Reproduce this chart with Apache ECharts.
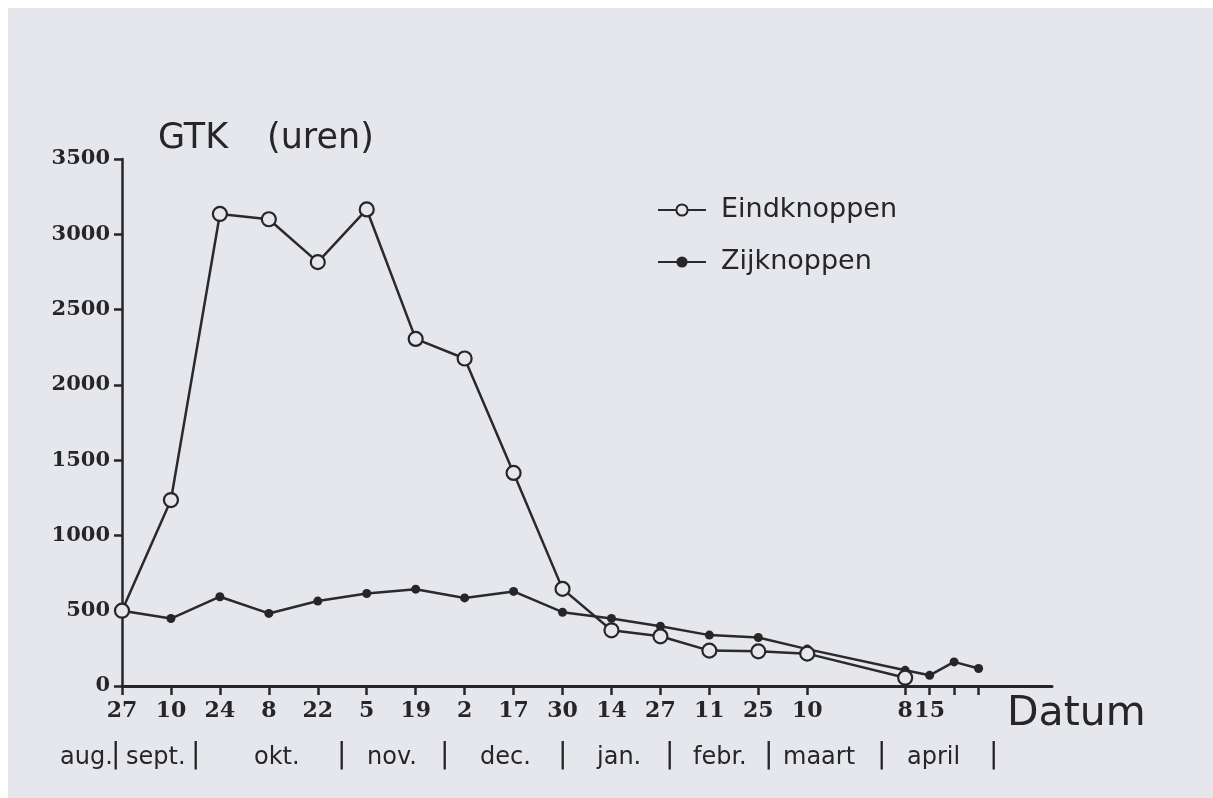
<!DOCTYPE html>
<html>
<head>
<meta charset="utf-8">
<script src="https://cdn.jsdelivr.net/npm/echarts@6/dist/echarts.min.js"></script>
<style>
  html, body { margin: 0; padding: 0; background: #ffffff; }
  #paper { position: absolute; left: 8px; top: 8px; width: 1205px; height: 790px; background: #e6e7ed; }
  #main { position: absolute; left: 0; top: 0; width: 1213px; height: 798px; }
</style>
</head>
<body>
<div id="paper"></div>
<div id="main"></div>
<script>
// ---- data (week index counted from 27 aug) ----
const weekCount = 39;                       // weeks 0..38 on the axis
const tickWeeks = [0, 2, 4, 6, 8, 10, 12, 14, 16, 18, 20, 22, 24, 26, 28, 32, 33, 34, 35];
const labelWeeks = [0, 2, 4, 6, 8, 10, 12, 14, 16, 18, 20, 22, 24, 26, 28, 32, 33];
const tickLabels = ['27', '10', '24', '8', '22', '5', '19', '2', '17', '30', '14', '27', '11', '25', '10', '8', '15'];

const eindWeeks = [0, 2, 4, 6, 8, 10, 12, 14, 16, 18, 20, 22, 24, 26, 28, 32];
const eindValues = [500, 1235, 3135, 3100, 2815, 3165, 2305, 2175, 1415, 645, 370, 330, 235, 230, 215, 55];

const zijWeeks = [0, 2, 4, 6, 8, 10, 12, 14, 16, 18, 20, 22, 24, 26, 28, 32, 33, 34, 35];
const zijValues = [500, 448, 593, 482, 564, 614, 643, 585, 628, 490, 449, 397, 338, 322, 245, 104, 71, 160, 116];

const yTicks = [0, 500, 1000, 1500, 2000, 2500, 3000, 3500];
const monthLabels = ['aug.', 'sept.', 'okt.', 'nov.', 'dec.', 'jan.', 'febr.', 'maart', 'april'];

// ---- layout (pixels) ----
const monthX = [60, 126, 254, 367, 480, 597, 693, 783, 907];
const barX = [111, 191, 337, 440, 558, 665, 764, 877, 989];

const BG = '#e6e7ed';
const INK = '#262626';

const categories = [];
for (let i = 0; i < weekCount; i++) {
  const k = labelWeeks.indexOf(i);
  categories.push(k >= 0 ? tickLabels[k] : '');
}
const tickSet = new Set(tickWeeks);
const labelSet = new Set(labelWeeks);

const eindData = eindWeeks.map((w, i) => [w, eindValues[i]]);
const zijData = zijWeeks.map((w, i) => [w, zijValues[i]]);

const graphics = [];
graphics.push({ type: 'text', left: 158, top: 121, style: { text: 'GTK', font: '35px "DejaVu Sans"', fill: INK } });
graphics.push({ type: 'text', left: 267, top: 121, style: { text: '(uren)', font: '35px "DejaVu Sans"', fill: INK } });
graphics.push({ type: 'text', left: 1007, top: 694, style: { text: 'Datum', font: '41px "DejaVu Sans"', fill: INK } });
monthLabels.forEach((m, i) => {
  graphics.push({ type: 'text', left: monthX[i], top: 746, style: { text: m, font: '24px "DejaVu Sans"', fill: INK } });
  graphics.push({ type: 'text', left: barX[i], top: 742, style: { text: '|', font: '28px "DejaVu Sans"', fill: INK } });
});

const chart = echarts.init(document.getElementById('main'), null, { renderer: 'canvas' });
chart.setOption({
  animation: false,
  backgroundColor: 'transparent',
  grid: { left: 122, right: 161, top: 159, bottom: 112, containLabel: false },
  legend: {
    data: ['Eindknoppen', 'Zijknoppen'],
    orient: 'vertical',
    left: 652,
    top: 190,
    itemWidth: 48,
    itemHeight: 14,
    itemGap: 22,
    textStyle: { fontFamily: 'DejaVu Sans', fontSize: 27, color: INK, lineHeight: 30, padding: [0, 0, 0, 10] }
  },
  xAxis: {
    type: 'category',
    data: categories,
    boundaryGap: false,
    axisLine: { show: true, lineStyle: { color: INK, width: 3 } },
    axisTick: { show: true, interval: (i) => tickSet.has(i), length: 9, lineStyle: { color: INK, width: 2.5 } },
    axisLabel: {
      show: true, interval: (i) => labelSet.has(i), margin: 14,
      fontFamily: 'DejaVu Serif', fontWeight: 'bold', fontSize: 22, color: INK
    },
    splitLine: { show: false }
  },
  yAxis: {
    type: 'value',
    min: yTicks[0],
    max: yTicks[yTicks.length - 1],
    interval: yTicks[1] - yTicks[0],
    axisLine: { show: true, lineStyle: { color: INK, width: 2.5 } },
    axisTick: { show: true, length: 8, lineStyle: { color: INK, width: 2.5 } },
    axisLabel: {
      margin: 12, fontFamily: 'DejaVu Serif', fontWeight: 'bold', fontSize: 21, color: INK,
      formatter: (v) => String(v)
    },
    splitLine: { show: false }
  },
  series: [
    {
      name: 'Zijknoppen',
      type: 'line',
      data: zijData,
      symbol: 'circle',
      symbolSize: 9,
      itemStyle: { color: INK },
      lineStyle: { color: '#2a2a2a', width: 2.5 },
      z: 2
    },
    {
      name: 'Eindknoppen',
      type: 'line',
      data: eindData,
      symbol: 'circle',
      symbolSize: 14,
      itemStyle: { color: BG, borderColor: INK, borderWidth: 2.2 },
      lineStyle: { color: '#2a2a2a', width: 2.5 },
      z: 3
    }
  ],
  graphic: graphics
});
</script>
</body>
</html>
